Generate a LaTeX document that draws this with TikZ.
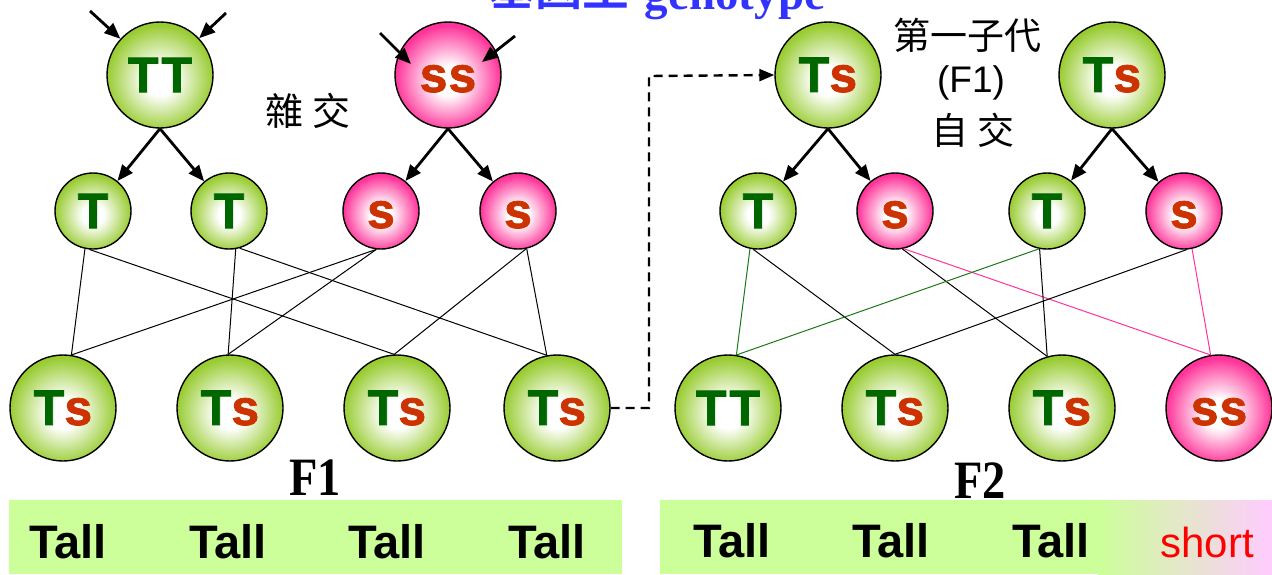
\documentclass[tikz,border=0pt]{standalone}
\usepackage{fontspec}
\usetikzlibrary{arrows.meta}
\setmainfont{Liberation Sans}
\newfontfamily\ballfam[FakeBold=1.6]{Liberation Sans Bold}
\newfontfamily\tallfam{Liberation Sans Bold}
\newfontfamily\serifbold{Liberation Serif Bold}
\newfontfamily\cjk{Noto Sans CJK TC}
\newfontfamily\cjkbold{Noto Sans CJK TC Bold}
\definecolor{tgreen}{HTML}{006600}
\definecolor{sred}{HTML}{CC3300}
\definecolor{ballgreen}{HTML}{99CC33}
\definecolor{ballpink}{HTML}{FF3399}
\definecolor{bargreen}{HTML}{CCFF99}
\definecolor{barpink}{HTML}{FFCCFF}
\definecolor{titleblue}{HTML}{3333FF}
\definecolor{linegreen}{HTML}{1A7A1A}
\definecolor{linepink}{HTML}{FF3399}
\pgfdeclareradialshading{greenball}{\pgfpoint{0bp}{-3bp}}{color(0bp)=(white); color(7bp)=(white); color(25bp)=(ballgreen); color(50bp)=(ballgreen)}
\pgfdeclareradialshading{pinkball}{\pgfpoint{0bp}{-3bp}}{color(0bp)=(white); color(7bp)=(white); color(25bp)=(ballpink); color(50bp)=(ballpink)}
\newcommand\gT{\textcolor{tgreen}{T}}
\newcommand\rs{\textcolor{sred}{s}}
\newcommand\lab[1]{\vphantom{T}#1}
\tikzset{
  ball/.style={circle, draw=black, line width=1.4pt, inner sep=0pt,
    font=\ballfam\fontsize{50}{60}\selectfont},
  gball/.style={ball, shading=greenball},
  pball/.style={ball, shading=pinkball},
  bigball/.style={minimum size=106pt},
  smallball/.style={minimum size=76pt},
  parr/.style={line width=2.8pt, -{Triangle[length=16pt,width=13pt]}},
  cross/.style={line width=1pt},
  dasharr/.style={line width=2.4pt, dash pattern=on 9pt off 6pt, -{Triangle[length=15pt,width=12pt]}},
  talltext/.style={font=\tallfam\fontsize{47}{50}\selectfont, anchor=base, inner sep=0pt},
  cjktext/.style={font=\cjk\fontsize{38}{44}\selectfont, anchor=base, inner sep=0pt},
  ftext/.style={font=\serifbold\fontsize{54}{60}\selectfont, anchor=base, inner sep=0pt},
}
\begin{document}
\begin{tikzpicture}[x=1pt,y=-1pt]
\clip (0,0) rectangle (1272,574);
\fill[white] (0,0) rectangle (1272,574);
% title (cut off at the top, as in the reference)
\node[font=\cjkbold\fontsize{47}{52}\selectfont, text=titleblue, anchor=base, inner sep=0pt] (titlecjk) at (559,5) {基因型};
\node[font=\serifbold\fontsize{47}{52}\selectfont, text=titleblue, anchor=base, inner sep=0pt] (titlelat) at (735,9) {genotype};
% bars
\fill[bargreen] (9,500) rectangle (622,574);
\fill[bargreen] (660,500) rectangle (1098,574);
\shade[left color=bargreen, right color=barpink] (1098,500) rectangle (1272,574);
% parents
\node[gball, bigball] (TT) at (160,75) {\lab{\gT\kern3pt\gT}};
\node[pball, bigball] (ss) at (448,75) {\lab{\rs\kern1pt\rs}};
\node[gball, bigball] (Pa) at (828,75) {\lab{\gT\rs}};
\node[gball, bigball] (Pb) at (1112,75) {\lab{\gT\rs}};
% gametes
\node[gball, smallball] (T1) at (93,211) {\lab{\gT}};
\node[gball, smallball] (T2) at (229,211) {\lab{\gT}};
\node[pball, smallball] (s1) at (381,211) {\lab{\rs}};
\node[pball, smallball] (s2) at (518,211) {\lab{\rs}};
\node[gball, smallball] (T3) at (758,211) {\lab{\gT}};
\node[pball, smallball] (s3) at (895,211) {\lab{\rs}};
\node[gball, smallball] (T4) at (1047,211) {\lab{\gT}};
\node[pball, smallball] (s4) at (1184,211) {\lab{\rs}};
% offspring
\node[gball, bigball] (O1) at (63,408) {\lab{\gT\rs}};
\node[gball, bigball] (O2) at (230,408) {\lab{\gT\rs}};
\node[gball, bigball] (O3) at (397,408) {\lab{\gT\rs}};
\node[gball, bigball] (O4) at (557,408) {\lab{\gT\rs}};
\node[gball, bigball] (Q1) at (728,408) {\lab{\gT\kern3pt\gT}};
\node[gball, bigball] (Q2) at (895,408) {\lab{\gT\rs}};
\node[gball, bigball] (Q3) at (1062,408) {\lab{\gT\rs}};
\node[pball, bigball] (Q4) at (1219,408) {\lab{\rs\kern1pt\rs}};
% incoming arrows
\coordinate (a1) at (90,11);
\coordinate (a2) at (226,13);
\coordinate (a3) at (380,33);
\coordinate (a3t) at (411,64);
\coordinate (a4) at (515,36);
\coordinate (a4t) at (482,62);
\draw[parr] (a1) -- (TT);
\draw[parr] (a2) -- (TT);
\draw[parr] (a3) -- (a3t);
\draw[parr] (a4) -- (a4t);
% parent to gamete arrows
\draw[parr] (TT.south) -- (T1);
\draw[parr] (TT.south) -- (T2);
\draw[parr] (ss.south) -- (s1);
\draw[parr] (ss.south) -- (s2);
\draw[parr] (Pa.south) -- (T3);
\draw[parr] (Pa.south) -- (s3);
\draw[parr] (Pb.south) -- (T4);
\draw[parr] (Pb.south) -- (s4);
% crossing lines F1
\draw[cross] (T1.258) -- (O1.81);
\draw[cross] (T1.265) -- (O3.93);
\draw[cross] (T2.280) -- (O2.92);
\draw[cross] (T2.286) -- (O4.101);
\draw[cross] (s1.263) -- (O1.81);
\draw[cross] (s1.263) -- (O2.92);
\draw[cross] (s2.282) -- (O3.93);
\draw[cross] (s2.283) -- (O4.101);
% crossing lines F2
\draw[cross, linegreen] (T3.258) -- (Q1.81);
\draw[cross] (T3.263) -- (Q2.90);
\draw[cross] (s3.281) -- (Q3.106);
\draw[cross, linepink] (s3.283) -- (Q4.99);
\draw[cross, linegreen] (T4.258) -- (Q1.81);
\draw[cross] (T4.259) -- (Q3.106);
\draw[cross] (s4.274) -- (Q2.90);
\draw[cross, linepink] (s4.282) -- (Q4.99);
% dashed connector
\coordinate (d1) at (649,408);
\coordinate (d2) at (649,76);
\draw[dasharr] (O4.east) -- (d1) -- (d2) -- (Pa.west);
% texts
\node[cjktext] (zajiao) at (308,125) {雜 交};
\node[cjktext, font=\cjk\fontsize{37}{44}\selectfont] (diyi) at (967,49.5) {第一子代};
\node[font=\fontsize{37}{44}\selectfont, anchor=base, inner sep=0pt] (fone) at (971,92) {(F1)};
\node[cjktext, font=\cjk\fontsize{37}{44}\selectfont] (zijiao) at (973,144.5) {自 交};
\node[ftext] (F1) at (315,495) {\scalebox{0.86}[1]{F1}};
\node[ftext] (F2) at (980,498) {\scalebox{0.86}[1]{F2}};
\node[talltext] (t1) at (68,558) {Tall};
\node[talltext] (t2) at (228,558) {Tall};
\node[talltext] (t3) at (387,558) {Tall};
\node[talltext] (t4) at (547,558) {Tall};
\node[talltext] (t5) at (732,557) {Tall};
\node[talltext] (t6) at (891,557) {Tall};
\node[talltext] (t7) at (1051,557) {Tall};
\node[font=\fontsize{42}{48}\selectfont, text=red, anchor=base, inner sep=0pt] (short) at (1207,557) {short};
\end{tikzpicture}
\end{document}
